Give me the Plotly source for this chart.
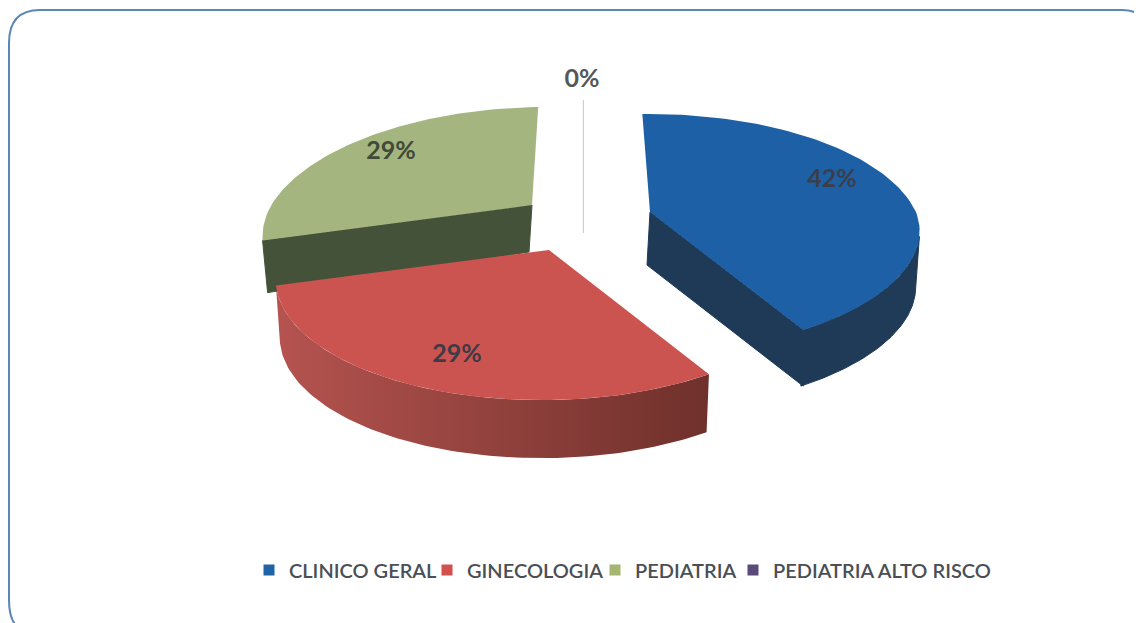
import numpy as np
import plotly.graph_objects as go

categories = ["CLINICO GERAL", "GINECOLOGIA", "PEDIATRIA", "PEDIATRIA ALTO RISCO"]
values = [42, 29, 29, 0]

W, H = 1142, 623
PAGE = 8  # the page's own body margin
top_colors = ["#1d60a6", "#cc5450", "#a4b57f", "#5b4a80"]
wall_grads = [["#1e3a56", "#1f3b58"], ["#b5534f", "#6f302b"], ["#45523a", "#45523a"], ["#999999", "#999999"]]
legend_colors = ["#1f62a6", "#d2504e", "#a5b670", "#5a4a78"]
legend_text_x = [289, 467, 635, 773]
apexes = [(650, 212), (549, 250), (532, 205), (591, 198)]
rx_scale = [1.0, 1.0, 0.98, 1.0]
shear_up = [0, 0, 0.14, 0]
shear_down = [0.11, 0.05, 0.10, 0]
y_down = [0.95, 1.0, 1.0, 1.0]
apex_depth = [53, 54, 47, 35]
rim_depth = [56, 58, 52, 0]
foot_dx = [0, 0, 5, 0]
label_pos = [(832, 181), (457, 356), (391, 153), (582, 81)]
RX, RY, K = 266, 118.6, 0.21
START = -2.0
WALL_TAPER = 0.985


def rim(t_deg, i, dy=0):
    t = np.radians(t_deg)
    f = 1 / (1 + K * np.cos(t))
    ox = RX * rx_scale[i] * np.sin(t) * f
    oy = -RY * np.cos(t) * f
    oy = np.where(oy > 0, oy * y_down[i], oy)
    ox = ox - shear_down[i] * np.maximum(oy, 0) + shear_up[i] * np.maximum(-oy, 0)
    return apexes[i][0] + ox, apexes[i][1] + oy + dy


def arc(t0, t1, i, dy=0):
    ts = np.linspace(t0, t1, 90)
    return rim(ts, i, dy)


fig = go.Figure()
total = sum(values)
spans = []
a = START
for v in values:
    b = a + 360 * v / total
    spans.append((a, b))
    a = b

faces, walls = [], []
for i, (v, (t0, t1)) in enumerate(zip(values, spans)):
    ap = apexes[i]
    if v == 0:
        x_end, y_end = rim(t0, i)
        fig.add_trace(go.Scatter(x=[x_end, x_end], y=[y_end, ap[1] + apex_depth[i]], mode="lines",
                                 line=dict(color="#c4c6c8", width=1), showlegend=False, hoverinfo="skip"))
        continue
    grad = dict(type="horizontal", colorscale=[[0, wall_grads[i][0]], [1, wall_grads[i][1]]])
    wall_line = dict(color=wall_grads[i][0], width=1) if wall_grads[i][0][:3] != "#b5" else dict(width=0)
    for t, normal in ((t0, t0 - 90), (t1, t1 + 90)):
        if np.cos(np.radians(normal)) < -0.1:
            ex, ey = rim(t, i)
            walls.append(go.Scatter(x=[ap[0], ex, ex + foot_dx[i], ap[0] - 3, ap[0]],
                                    y=[ap[1], ey, ey + rim_depth[i], ap[1] + apex_depth[i], ap[1]],
                                    mode="lines", fill="toself", fillcolor=wall_grads[i][0],
                                    line=wall_line, showlegend=False, hoverinfo="skip"))
    lo, hi = max(t0, 102), min(t1, 258)
    if hi - lo > 10:
        xa, ya = arc(lo, hi, i)
        xb, yb = arc(lo, hi, i, rim_depth[i])
        xb = ap[0] + (xb - ap[0]) * WALL_TAPER
        walls.append(go.Scatter(x=np.r_[xa, xb[::-1], xa[0]], y=np.r_[ya, yb[::-1], ya[0]],
                                mode="lines", fill="toself", fillgradient=grad,
                                line=wall_line, showlegend=False, hoverinfo="skip"))
    xa, ya = arc(t0, t1, i)
    faces.append(go.Scatter(x=np.r_[ap[0], xa, ap[0]], y=np.r_[ap[1], ya, ap[1]],
                            mode="lines", fill="toself", fillcolor=top_colors[i],
                            line=dict(width=0), showlegend=False, hoverinfo="skip"))

for tr in walls:
    fig.add_trace(tr)
for tr in faces:
    fig.add_trace(tr)

fig.add_trace(go.Scatter(
    x=[p[0] for p in label_pos], y=[p[1] for p in label_pos],
    text=[f"{v}%" for v in values], mode="text",
    textfont=dict(family="Lato", size=25, color=["#3a3f4a", "#3f3a44", "#3f4a38", "#55585a"], weight=700),
    showlegend=False, hoverinfo="skip"))

legends = {}
for k, (name, c, tx) in enumerate(zip(categories, legend_colors, legend_text_x)):
    key = "legend" if k == 0 else f"legend{k + 1}"
    fig.add_trace(go.Scatter(x=[None], y=[None], mode="markers", name=name, legend=key,
                             marker=dict(symbol="square", size=11, color=c)))
    legends[key] = dict(x=(tx - 40 - PAGE) / (W - PAGE), xanchor="left",
                        y=1 - (570 - PAGE) / (H - PAGE), yanchor="middle",
                        font=dict(family="Lato", size=20, color="#4a4f55", weight=600),
                        itemwidth=30, bgcolor="rgba(0,0,0,0)")

fig.update_layout(
    width=W - PAGE, height=H - PAGE, margin=dict(l=0, r=0, t=0, b=0),
    paper_bgcolor="white", plot_bgcolor="white",
    xaxis=dict(range=[PAGE, W], visible=False, fixedrange=True),
    yaxis=dict(range=[H, PAGE], visible=False, fixedrange=True),
    shapes=[dict(type="path", xref="x", yref="y",
                 path="M 32 632 Q 9 632 9 600 L 9 43 Q 9 10 40 10 L 1122 10 Q 1150 10 1150 40",
                 line=dict(color="#5b86b8", width=2), fillcolor="rgba(0,0,0,0)")],
    **legends,
)
fig.write_html("out.html")
